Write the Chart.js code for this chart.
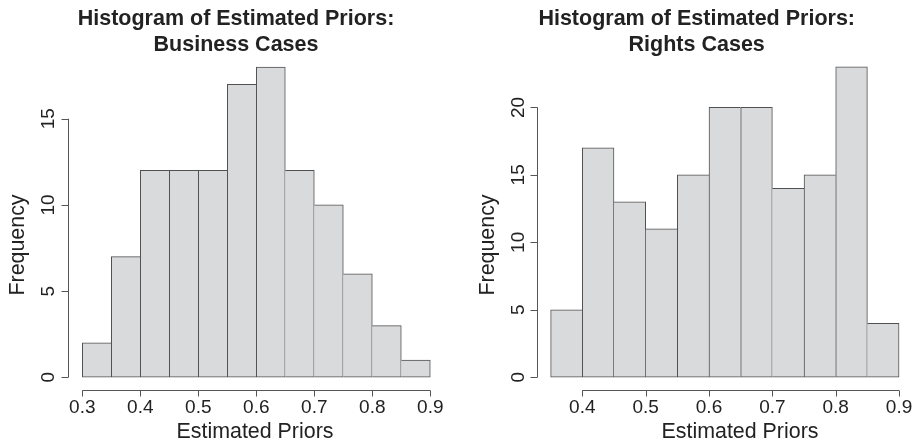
<!DOCTYPE html>
<html lang="en">
<head>
    <meta charset="UTF-8">
    <title>Histograms of Estimated Priors</title>
    <style>
        body {
            margin: 0;
            padding: 0;
            background: #fff;
        }
        .wrap {
            position: relative;
            width: 913px;
            height: 443px;
        }
        .wrap canvas {
            position: absolute;
            top: 0;
        }
        #bizChart { left: 0; }
        #rightsChart { left: 456px; }
    </style>
</head>
<body>
    <div class="wrap">
        <canvas id="bizChart" width="456" height="443"></canvas>
        <canvas id="rightsChart" width="457" height="443"></canvas>
    </div>

    <script src="https://cdn.jsdelivr.net/npm/chart.js"></script>
    <script>
        // Business cases: bin edges and counts
        const bizEdges = [0.30, 0.35, 0.40, 0.45, 0.50, 0.55, 0.60, 0.65, 0.70, 0.75, 0.80, 0.85, 0.90];
        const bizCounts = [2, 7, 12, 12, 12, 17, 18, 12, 10, 6, 3, 1];
        const bizXTicks = [0.3, 0.4, 0.5, 0.6, 0.7, 0.8, 0.9];
        const bizYTicks = [0, 5, 10, 15];

        // Rights cases: bin edges and counts
        const rightsEdges = [0.35, 0.40, 0.45, 0.50, 0.55, 0.60, 0.65, 0.70, 0.75, 0.80, 0.85, 0.90];
        const rightsCounts = [5, 17, 13, 11, 15, 20, 20, 14, 15, 23, 4];
        const rightsXTicks = [0.4, 0.5, 0.6, 0.7, 0.8, 0.9];
        const rightsYTicks = [0, 5, 10, 15, 20];

        const textColor = '#222';
        const axisColor = '#555';
        const fontFamily = '"Liberation Sans", Arial, Helvetica, sans-serif';

        // R-style axes, titles and labels drawn off the chart's own scales
        const rAxes = {
            id: 'rAxes',
            afterDraw(chart, args, opts) {
                const ctx = chart.ctx;
                const xs = chart.scales.x;
                const ys = chart.scales.y;
                const area = chart.chartArea;
                ctx.save();
                ctx.strokeStyle = axisColor;
                ctx.lineWidth = 1;
                ctx.fillStyle = textColor;

                // y axis
                const ax = Math.round(area.left) + 0.5;
                const yTop = ys.getPixelForValue(opts.yTicks[opts.yTicks.length - 1]);
                const yBot = ys.getPixelForValue(opts.yTicks[0]);
                ctx.beginPath();
                ctx.moveTo(ax, yTop);
                ctx.lineTo(ax, yBot);
                opts.yTicks.forEach(v => {
                    const py = Math.round(ys.getPixelForValue(v)) + 0.5;
                    ctx.moveTo(ax, py);
                    ctx.lineTo(ax - 7, py);
                });
                ctx.stroke();

                ctx.font = '19px ' + fontFamily;
                ctx.textAlign = 'center';
                ctx.textBaseline = 'middle';
                opts.yTicks.forEach(v => {
                    ctx.save();
                    ctx.translate(opts.yLabelX, ys.getPixelForValue(v));
                    ctx.rotate(-Math.PI / 2);
                    ctx.fillText(String(v), 0, 0);
                    ctx.restore();
                });

                // x axis
                const ay = Math.round(area.bottom) + 0.5;
                const xL = xs.getPixelForValue(opts.xTicks[0]);
                const xR = xs.getPixelForValue(opts.xTicks[opts.xTicks.length - 1]);
                ctx.beginPath();
                ctx.moveTo(xL, ay);
                ctx.lineTo(xR, ay);
                opts.xTicks.forEach(v => {
                    const px = Math.round(xs.getPixelForValue(v)) + 0.5;
                    ctx.moveTo(px, ay);
                    ctx.lineTo(px, ay + 6);
                });
                ctx.stroke();
                opts.xTicks.forEach(v => {
                    ctx.fillText(v.toFixed(1), xs.getPixelForValue(v), 408);
                });

                // axis titles
                ctx.font = '21.4px ' + fontFamily;
                ctx.fillText('Estimated Priors', opts.xTitleX, 432);
                ctx.save();
                ctx.translate(opts.yTitleX, 245);
                ctx.rotate(-Math.PI / 2);
                ctx.fillText('Frequency', 0, 0);
                ctx.restore();

                // main title
                ctx.font = 'bold 21.5px ' + fontFamily;
                ctx.fillText(opts.title[0], opts.titleX, 19);
                ctx.fillText(opts.title[1], opts.titleX, 45);
                ctx.restore();
            }
        };

        function makeHist(id, edges, counts, xTicks, yTicks, pad, pos, title) {
            const mids = counts.map((c, i) => (edges[i] + edges[i + 1]) / 2);
            const xMin = edges[0], xMax = edges[edges.length - 1];
            const yMax = Math.max(...counts);
            const dx = (xMax - xMin) * 0.04;
            const dy = yMax * 0.04;
            const n = counts.length;

            // shared edges between bars are drawn once, by the taller bar
            const borders = c => {
                const i = c.dataIndex;
                const prev = i > 0 ? counts[i - 1] : -1;
                const next = i < n - 1 ? counts[i + 1] : -1;
                return {
                    top: 1,
                    bottom: 1,
                    left: counts[i] >= prev ? 1 : 0,
                    right: counts[i] > next ? 1 : 0
                };
            };

            return new Chart(document.getElementById(id).getContext('2d'), {
                type: 'bar',
                data: {
                    datasets: [{
                        data: mids.map((m, i) => ({ x: m, y: counts[i] })),
                        backgroundColor: '#d9dadb',
                        borderColor: '#505050',
                        borderWidth: borders,
                        borderSkipped: false,
                        barPercentage: 1.0,
                        categoryPercentage: 1.0,
                        grouped: false
                    }]
                },
                options: {
                    responsive: false,
                    animation: false,
                    events: [],
                    layout: { padding: pad },
                    scales: {
                        x: { type: 'linear', offset: false, min: xMin - dx, max: xMax + dx, display: false },
                        y: { type: 'linear', min: -dy, max: yMax + dy, display: false }
                    },
                    plugins: {
                        legend: { display: false },
                        tooltip: { enabled: false },
                        rAxes: Object.assign({ xTicks, yTicks, title }, pos)
                    }
                },
                plugins: [rAxes]
            });
        }

        makeHist('bizChart', bizEdges, bizCounts, bizXTicks, bizYTicks,
            { left: 68.4, right: 11.8, top: 54.6, bottom: 53.3 },
            { yLabelX: 48.5, yTitleX: 18.5, titleX: 236, xTitleX: 255 },
            ['Histogram of Estimated Priors:', 'Business Cases']);

        makeHist('rightsChart', rightsEdges, rightsCounts, rightsXTicks, rightsYTicks,
            { left: 80.7, right: 0, top: 54.5, bottom: 53.3 },
            { yLabelX: 63, yTitleX: 32, titleX: 240.7, xTitleX: 284 },
            ['Histogram of Estimated Priors:', 'Rights Cases']);
    </script>
</body>
</html>
